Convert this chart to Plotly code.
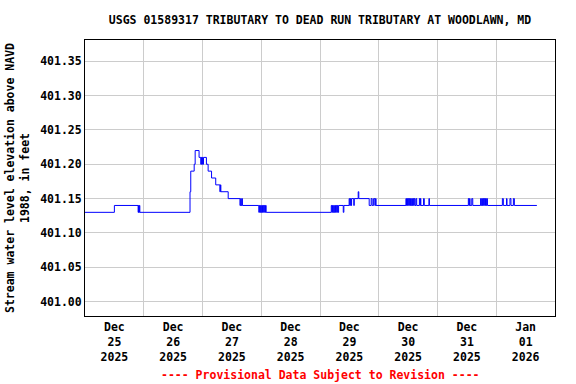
import pandas as pd
import plotly.graph_objects as go

# Hours after 2025-12-25 00:00 at which the gage level changes, and the level from then on
hours = [
    0.0, 12.0, 21.7, 21.9, 22.0, 22.2, 22.4,
    42.9, 43.2, 44.6, 45.0, 46.6, 47.3, 47.5, 47.7, 47.9, 48.1, 48.4, 49.6, 50.3,
    51.7, 53.4, 55.1, 55.3, 55.5, 58.5, 63.3, 63.6, 63.8, 64.1, 64.3,
    71.0, 71.25, 71.5, 71.75, 72.0, 72.25, 72.5, 72.75, 73.0, 73.25, 73.5, 73.75, 74.0,
    100.6, 100.85, 101.1, 101.35, 101.6, 101.85, 102.1, 102.35, 102.6, 102.85,
    103.1, 103.35, 103.6, 105.5, 105.75,
    107.9, 108.15, 108.4, 108.65, 108.9, 109.8, 110.0, 111.6, 111.85,
    116.1, 116.9, 117.3, 117.9, 118.4, 118.7, 118.9,
    131.1, 131.35, 131.6, 131.8, 132.0, 132.25, 132.5, 132.75, 133.0, 133.25,
    133.5, 133.75, 134.0, 134.25, 134.5, 134.8, 135.2, 135.5,
    136.6, 136.9, 137.0, 137.2, 138.3, 138.6, 140.5, 140.7,
    156.6, 156.85, 157.1, 157.3, 158.0, 158.4,
    161.6, 161.85, 162.1, 162.35, 162.6, 162.85, 163.1, 163.35, 163.6, 163.85,
    164.1, 164.4,
    170.5, 170.9, 172.2, 172.4, 173.6, 174.0, 175.0, 175.4, 184.6,
]
levels = [
    401.13, 401.14, 401.13, 401.14, 401.13, 401.14, 401.13,
    401.16, 401.19, 401.20, 401.22, 401.21, 401.20, 401.21, 401.20, 401.21, 401.20, 401.21, 401.20, 401.19,
    401.18, 401.17, 401.16, 401.17, 401.16, 401.15, 401.14, 401.15, 401.14, 401.15, 401.14,
    401.13, 401.14, 401.13, 401.14, 401.13, 401.14, 401.13, 401.14, 401.13, 401.14, 401.13, 401.14, 401.13,
    401.14, 401.13, 401.14, 401.13, 401.14, 401.13, 401.14, 401.13, 401.14, 401.13,
    401.14, 401.13, 401.14, 401.13, 401.14,
    401.15, 401.14, 401.15, 401.14, 401.15, 401.14, 401.15, 401.16, 401.15,
    401.14, 401.15, 401.14, 401.15, 401.14, 401.15, 401.14,
    401.15, 401.14, 401.15, 401.14, 401.15, 401.14, 401.15, 401.14, 401.15, 401.14,
    401.15, 401.14, 401.15, 401.14, 401.15, 401.14, 401.15, 401.14,
    401.15, 401.14, 401.15, 401.14, 401.15, 401.14, 401.15, 401.14,
    401.15, 401.14, 401.15, 401.14, 401.15, 401.14,
    401.15, 401.14, 401.15, 401.14, 401.15, 401.14, 401.15, 401.14, 401.15, 401.14,
    401.15, 401.14,
    401.15, 401.14, 401.15, 401.14, 401.15, 401.14, 401.15, 401.14, 401.14,
]

day_labels = ["Dec<br>25<br>2025", "Dec<br>26<br>2025", "Dec<br>27<br>2025", "Dec<br>28<br>2025",
              "Dec<br>29<br>2025", "Dec<br>30<br>2025", "Dec<br>31<br>2025", "Jan<br>01<br>2026"]
day_starts = ["2025-12-25", "2025-12-26", "2025-12-27", "2025-12-28",
              "2025-12-29", "2025-12-30", "2025-12-31", "2026-01-01", "2026-01-02"]
y_ticks = [401.00, 401.05, 401.10, 401.15, 401.20, 401.25, 401.30, 401.35]

t0 = pd.Timestamp("2025-12-25 00:00")
times = [t0 + pd.Timedelta(hours=h) for h in hours]
midnights = [pd.Timestamp(d) for d in day_starts]
noons = [d + pd.Timedelta(hours=12) for d in midnights[:-1]]

FONT = "DejaVu Sans Mono"
FS = 11.5

fig = go.Figure()
fig.add_trace(go.Scatter(x=times, y=levels, mode="lines",
                         line=dict(color="#0000ff", width=1, shape="hv"),
                         showlegend=False, hoverinfo="skip"))

fig.update_layout(
    width=576, height=384,
    margin=dict(l=85, r=21, t=40, b=68, autoexpand=False),
    paper_bgcolor="white", plot_bgcolor="white",
    font=dict(family=FONT, size=FS, color="black", weight="bold"),
    title=dict(text="USGS 01589317 TRIBUTARY TO DEAD RUN TRIBUTARY AT WOODLAWN, MD",
               x=0.5, xref="paper", xanchor="center",
               y=1 - 20 / 384, yref="container", yanchor="middle",
               font=dict(family=FONT, size=FS, color="black", weight="bold")),
    xaxis=dict(
        range=[midnights[0], midnights[-1]],
        tickmode="array", tickvals=noons, ticktext=day_labels,
        showgrid=False, ticks="", zeroline=False, automargin=False,
        showline=True, linecolor="black", linewidth=1, mirror=True,
        tickfont=dict(family=FONT, size=FS, color="black", weight="bold"),
        minor=dict(tickmode="array", tickvals=midnights, showgrid=True,
                   gridcolor="#cccccc", gridwidth=1, ticks=""),
    ),
    yaxis=dict(
        range=[400.9790, 401.3810],
        tickmode="array", tickvals=y_ticks, tickformat=".2f",
        showgrid=True, gridcolor="#cccccc", gridwidth=1, zeroline=False,
        showline=True, linecolor="black", linewidth=1, mirror=True, ticks="",
        automargin=False,
        tickfont=dict(family=FONT, size=FS, color="black", weight="bold"),
        title=dict(text="Stream water level elevation above NAVD<br>1988, in feet",
                   font=dict(family=FONT, size=FS, color="black", weight="bold"),
                   standoff=8),
    ),
)

fig.add_annotation(text="---- Provisional Data Subject to Revision ----",
                   x=0.5, xref="paper", xanchor="center",
                   y=-(375 - 316) / 276, yref="paper", yanchor="middle", showarrow=False,
                   font=dict(family=FONT, size=FS, color="red", weight="bold"))

fig.write_html("out.html", config={"displayModeBar": False},
               post_script="document.body.style.margin='0';document.body.style.padding='0';")
